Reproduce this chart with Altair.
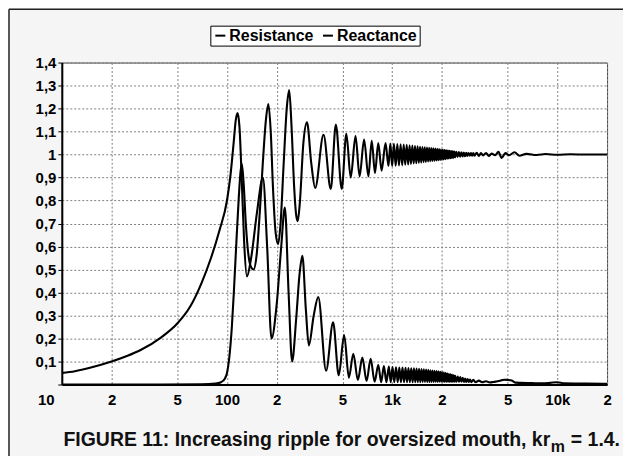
import altair as alt
import pandas as pd

# ---------------- data ----------------
# Resistance: frequency (Hz) and normalised value
res_f = [10, 40, 70, 85, 92, 97, 100, 103, 107, 110,
         114, 118, 121, 123, 126, 130, 135, 140, 145, 151,
         158, 165, 172, 178, 184, 190, 197, 204, 211, 220,
         230, 238, 246, 255, 262, 268, 276, 290, 305, 324,
         342, 384, 425, 456, 495, 528, 561, 600, 635, 676,
         718, 752, 787, 824, 863, 912, 950, 975, 1000, 1025,
         1050, 1075, 1100, 1125, 1150, 1175, 1200, 1225, 1250, 1275,
         1300, 1325, 1350, 1375, 1400, 1425, 1450, 1475, 1500, 1525,
         1550, 1575, 1600, 1625, 1650, 1675, 1700, 1725, 1750, 1775,
         1800, 1825, 1850, 1875, 1900, 1925, 1950, 1975, 2000, 2025,
         2050, 2075, 2100, 2125, 2150, 2175, 2200, 2225, 2250, 2275,
         2300, 2325, 2350, 2375, 2400, 2445, 2490, 2535, 2580, 2625,
         2670, 2715, 2760, 2805, 2850, 2900, 2950, 3000, 3050, 3100,
         3150, 3250, 3350, 3450, 3550, 3700, 3850, 4000, 4200, 4400,
         4600, 4850, 5100, 5500, 5900, 6500, 7500, 8500, 10000, 12000,
         15000, 20000]
res_v = [0.0, 0.0, 0.001, 0.004, 0.01, 0.025, 0.05, 0.11, 0.25, 0.40,
         0.62, 0.82, 0.93, 0.96, 0.88, 0.70, 0.56, 0.51, 0.50, 0.56,
         0.75, 0.97, 1.15, 1.22, 1.10, 0.85, 0.66, 0.61, 0.70, 0.95,
         1.20, 1.28, 1.12, 0.86, 0.74, 0.71, 0.79, 1.05, 1.14, 0.96,
         0.855, 1.086, 0.85, 1.13, 0.85, 1.09, 0.90, 1.08, 0.905, 1.065,
         0.905, 1.06, 0.92, 1.05, 0.93, 1.05, 0.95, 1.048, 0.950, 1.047,
         0.951, 1.046, 0.953, 1.045, 0.954, 1.043, 0.956, 1.042, 0.957, 1.040,
         0.959, 1.039, 0.961, 1.037, 0.962, 1.036, 0.964, 1.034, 0.965, 1.033,
         0.967, 1.031, 0.968, 1.030, 0.970, 1.029, 0.971, 1.028, 0.972, 1.027,
         0.973, 1.026, 0.974, 1.025, 0.975, 1.024, 0.976, 1.022, 0.978, 1.021,
         0.979, 1.020, 0.980, 1.018, 0.982, 1.017, 0.983, 1.016, 0.984, 1.015,
         0.985, 1.014, 0.986, 1.013, 0.988, 1.012, 0.990, 1.011, 0.991, 1.010,
         0.992, 1.009, 0.993, 1.008, 0.994, 1.007, 0.995, 1.006, 0.995, 1.006,
         0.995, 1.008, 0.994, 1.006, 0.996, 1.007, 0.994, 1.004, 0.997, 1.012,
         0.985, 1.006, 0.997, 1.010, 0.995, 1.003, 0.998, 1.002, 0.999, 1.001,
         1.000, 1.000]

# Reactance: frequency (Hz) and normalised value
rea_f = [10, 12, 15, 20, 25, 30, 40, 50, 60, 70,
         80, 90, 100, 105, 110, 113, 116, 119, 123, 127,
         132, 140, 152, 165, 175, 186, 200, 213, 224, 236,
         248, 262, 275, 286, 300, 313, 335, 357, 398, 439,
         475, 512, 547, 582, 620, 660, 700, 741, 783, 824,
         858, 891, 923, 955, 980, 1005, 1030, 1055, 1080, 1105,
         1130, 1155, 1180, 1205, 1230, 1255, 1280, 1305, 1330, 1355,
         1380, 1405, 1430, 1455, 1480, 1505, 1530, 1555, 1580, 1605,
         1630, 1655, 1680, 1705, 1730, 1755, 1780, 1805, 1830, 1855,
         1880, 1905, 1930, 1955, 1980, 2005, 2030, 2055, 2080, 2105,
         2130, 2155, 2180, 2205, 2230, 2255, 2280, 2305, 2330, 2355,
         2380, 2405, 2450, 2495, 2540, 2585, 2630, 2675, 2720, 2765,
         2810, 2860, 2910, 2960, 3010, 3100, 3200, 3350, 3500, 3700,
         3900, 4100, 4500, 4750, 5000, 5300, 5600, 6000, 7000, 8000,
         9000, 10000, 11000, 15000, 20000]
rea_v = [0.05, 0.058, 0.074, 0.10, 0.125, 0.15, 0.205, 0.265, 0.34, 0.44,
         0.55, 0.67, 0.80, 0.91, 1.06, 1.15, 1.18, 1.12, 0.88, 0.62,
         0.47, 0.55, 0.75, 0.90, 0.60, 0.20, 0.35, 0.60, 0.77, 0.40,
         0.10, 0.28, 0.48, 0.56, 0.33, 0.17, 0.30, 0.38, 0.06, 0.27,
         0.04, 0.215, 0.03, 0.134, 0.02, 0.117, 0.015, 0.112, 0.012, 0.085,
         0.01, 0.08, 0.01, 0.078, 0.01, 0.076, 0.01, 0.075, 0.01, 0.074,
         0.01, 0.074, 0.01, 0.073, 0.01, 0.072, 0.01, 0.071, 0.01, 0.070,
         0.01, 0.069, 0.01, 0.068, 0.01, 0.067, 0.011, 0.066, 0.011, 0.065,
         0.011, 0.064, 0.011, 0.062, 0.011, 0.061, 0.011, 0.060, 0.012, 0.058,
         0.012, 0.057, 0.012, 0.055, 0.012, 0.053, 0.012, 0.052, 0.012, 0.050,
         0.012, 0.048, 0.012, 0.046, 0.012, 0.044, 0.012, 0.042, 0.012, 0.040,
         0.012, 0.038, 0.012, 0.035, 0.012, 0.032, 0.012, 0.029, 0.011, 0.026,
         0.011, 0.024, 0.011, 0.022, 0.010, 0.020, 0.010, 0.017, 0.010, 0.014,
         0.009, 0.011, 0.016, 0.021, 0.020, 0.017, 0.008, 0.007, 0.006, 0.005,
         0.007, 0.010, 0.005, 0.004, 0.003]

series = ["Resistance", "Reactance"]
x_ticks = [10, 20, 50, 100, 200, 500, 1000, 2000, 5000, 10000, 20000]
x_tick_labels = ["10", "2", "5", "100", "2", "5", "1k", "2", "5", "10k", "2"]
y_ticks = [0, 0.1, 0.2, 0.3, 0.4, 0.5, 0.6, 0.7, 0.8, 0.9, 1.0, 1.1, 1.2, 1.3, 1.4]
caption_main = "FIGURE 11: Increasing ripple for oversized mouth, kr"
caption_sub = "m"
caption_end = " = 1.4."

# ---------------- build ----------------
df = pd.concat([
    pd.DataFrame({"f": res_f, "v": res_v, "s": series[0], "o": range(len(res_f))}),
    pd.DataFrame({"f": rea_f, "v": rea_v, "s": series[1], "o": range(len(rea_f))}),
])

label_map = "{" + ",".join(f"'{v}':'{l}'" for v, l in zip(x_ticks, x_tick_labels)) + "}"

W, H = 547, 323
FONT = "Liberation Sans"

lines = alt.Chart(df).mark_line(strokeWidth=2.1, interpolate="monotone", clip=True).encode(
    x=alt.X("f:Q", scale=alt.Scale(type="log", domain=[10, 20000], nice=False),
            axis=alt.Axis(values=x_ticks, labelExpr=f"{label_map}[datum.value]", title=None,
                          ticks=False, tickSize=0, labelPadding=8, labelFlush=False,
                          labelOffset={"condition": {"test": "datum.value == 10", "value": -16}, "value": 0},
                          grid=True)),
    y=alt.Y("v:Q", scale=alt.Scale(domain=[0, 1.4], nice=False),
            axis=alt.Axis(values=y_ticks, title=None, grid=True, ticks=True, tickSize=4, labelPadding=2,
                          labelExpr="datum.value == 0 ? '' : replace(format(datum.value, '.1~f'), '.', ',')")),
    color=alt.Color("s:N", scale=alt.Scale(domain=series, range=["black", "black"]),
                    legend=alt.Legend(title=None, orient="none", legendX=149, legendY=-37, direction="horizontal",
                                      strokeColor="black", fillColor="white", padding=2,
                                      labelFont=FONT, labelFontWeight="bold", labelFontSize=16, labelColor="black",
                                      symbolType="stroke", symbolStrokeWidth=2, symbolSize=100, symbolOffset=0,
                                      labelOffset=1, columnPadding=5)),
    detail="s:N",
    order="o:Q",
)

one = pd.DataFrame({"a": [0]})
cap3 = alt.Chart(one).mark_text(font=FONT, fontWeight="bold", fontSize=19.5, align="right", baseline="alphabetic",
                                color="#111").encode(x=alt.value(560), y=alt.value(385), text=alt.value(caption_end))
cap2 = alt.Chart(one).mark_text(font=FONT, fontWeight="bold", fontSize=16, align="left", baseline="alphabetic",
                                color="#111").encode(x=alt.value(490.5), y=alt.value(391), text=alt.value(caption_sub))
cap1 = alt.Chart(one).mark_text(font=FONT, fontWeight="bold", fontSize=19.5, align="right", baseline="alphabetic",
                                color="#111").encode(x=alt.value(490), y=alt.value(385), text=alt.value(caption_main))

frame_left = alt.Chart(one).mark_rule(color="#222", strokeWidth=1.5).encode(
    x=alt.value(-53), y=alt.value(-53.5), y2=alt.value(400))
frame_top = alt.Chart(one).mark_rule(color="#222", strokeWidth=1.5).encode(
    x=alt.value(-53), x2=alt.value(570), y=alt.value(-53.5))

chart = alt.layer(frame_left, frame_top, lines, cap1, cap2, cap3).properties(
    width=W, height=H, autosize=alt.AutoSizeParams(type="none"),
    padding={"left": 54, "top": 54, "right": 16, "bottom": 71},
    background="#f5f5f5",
).configure_view(stroke="#444", strokeWidth=1, fill="white").configure_axis(
    labelFont=FONT, labelFontWeight="bold", labelFontSize=15, labelColor="black",
    gridColor="#808080", gridDash=[2, 2], gridWidth=1, domainColor="black", domainWidth=2,
    tickColor="black",
)

chart.save("out.html", embed_options={"renderer": "svg", "actions": False})
